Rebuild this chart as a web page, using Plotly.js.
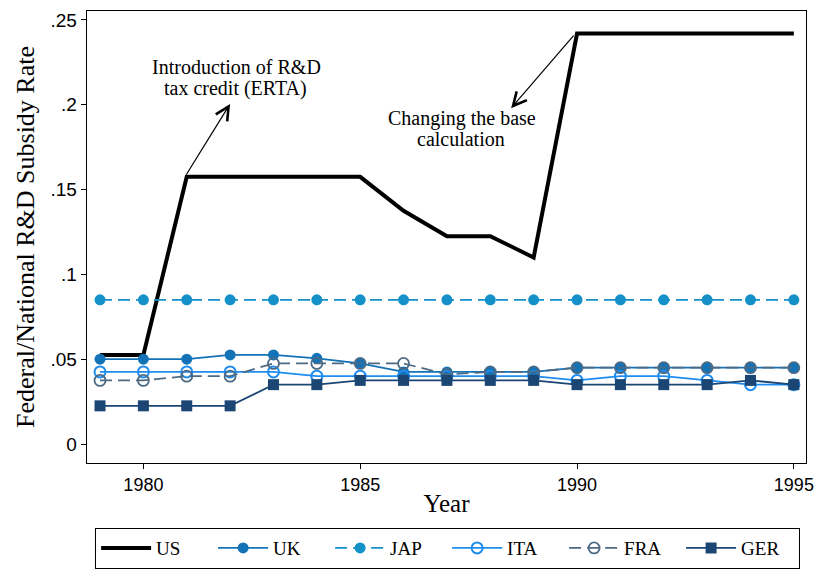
<!DOCTYPE html>
<html>
<head>
<meta charset="utf-8">
<script src="https://cdn.plot.ly/plotly-3.0.1.min.js"></script>
<style>html,body{margin:0;padding:0;background:#fff;}#chart{width:821px;height:572px;}</style>
</head>
<body>
<div id="chart"></div>
<script>
const years = [1979,1980,1981,1982,1983,1984,1985,1986,1987,1988,1989,1990,1991,1992,1993,1994,1995];
const US  = [0.0525,0.0525,0.1575,0.1575,0.1575,0.1575,0.1575,0.1375,0.1225,0.1225,0.1100,0.2420,0.2420,0.2420,0.2420,0.2420,0.2420];
const UK  = [0.0500,0.0500,0.0500,0.0525,0.0525,0.0505,0.0475,0.0425,0.0425,0.0425,0.0425,0.0450,0.0450,0.0450,0.0450,0.0450,0.0450];
const JAP = [0.085,0.085,0.085,0.085,0.085,0.085,0.085,0.085,0.085,0.085,0.085,0.085,0.085,0.085,0.085,0.085,0.085];
const ITA = [0.0425,0.0425,0.0425,0.0425,0.0425,0.0400,0.0400,0.0400,0.0400,0.0400,0.0400,0.0375,0.0400,0.0400,0.0375,0.0350,0.0350];
const FRA = [0.0375,0.0375,0.0400,0.0400,0.0475,0.0475,0.0475,0.0475,0.0410,0.0425,0.0425,0.0450,0.0450,0.0450,0.0450,0.0450,0.0450];
const GER = [0.0225,0.0225,0.0225,0.0225,0.0350,0.0350,0.0375,0.0375,0.0375,0.0375,0.0375,0.0350,0.0350,0.0350,0.0350,0.0375,0.0350];
const yTickVals = [0,0.05,0.1,0.15,0.2,0.25];
const yTickText = ['0','.05','.1','.15','.2','.25'];
const xTickVals = [1980,1985,1990,1995];

const serif = 'Liberation Serif, Times New Roman, serif';
const sans = 'Liberation Sans, Arial, sans-serif';

const traces = [
  {x: years, y: US, name: 'US', mode: 'lines', line: {color: '#000000', width: 4}},
  {x: years, y: UK, name: 'UK', mode: 'lines+markers', line: {color: '#1473b6', width: 1.8},
   marker: {symbol: 'circle', size: 11, color: '#1473b6'}},
  {x: years, y: JAP, name: 'JAP', mode: 'lines+markers', line: {color: '#1590c8', width: 1.8, dash: '12px,6px'},
   marker: {symbol: 'circle', size: 11, color: '#1590c8'}},
  {x: years, y: ITA, name: 'ITA', mode: 'lines+markers', line: {color: '#1e8cf0', width: 1.8},
   marker: {symbol: 'circle-open', size: 11, color: '#1e8cf0', line: {width: 2}}},
  {x: years, y: FRA, name: 'FRA', mode: 'lines+markers', line: {color: '#4d6a84', width: 1.8, dash: '12px,6px'},
   marker: {symbol: 'circle-open', size: 11, color: '#4d6a84', line: {width: 1.8}}},
  {x: years, y: GER, name: 'GER', mode: 'lines+markers', line: {color: '#1b4674', width: 1.8},
   marker: {symbol: 'square', size: 11, color: '#1b4674'}}
];

const txt = (x, y, s) => ({x: x, y: y, xref: 'x', yref: 'y', showarrow: false, text: s,
  font: {family: serif, size: 20, color: '#000'}, align: 'center'});

const layout = {
  width: 821, height: 572,
  margin: {l: 87, r: 15, t: 11, b: 109, autoexpand: false},
  paper_bgcolor: '#ffffff', plot_bgcolor: '#ffffff',
  showlegend: true,
  legend: {
    orientation: 'h', x: 0.011, xanchor: 'left', y: -0.1435, yanchor: 'top',
    bordercolor: '#000000', borderwidth: 1.2,
    font: {family: serif, size: 19, color: '#000'},
    entrywidth: 52, entrywidthmode: 'pixels', itemwidth: 50,
    tracegroupgap: 0
  },
  xaxis: {
    range: [1978.7, 1995.28], tickvals: xTickVals, ticks: 'outside', ticklen: 5, tickcolor: '#000',
    showgrid: false, zeroline: false, showline: true, linecolor: '#000', linewidth: 1.3, mirror: true,
    tickfont: {family: sans, size: 18, color: '#000'},
    title: {text: 'Year', font: {family: serif, size: 25, color: '#000'}, standoff: 0}
  },
  yaxis: {
    range: [-0.0112, 0.2553], tickvals: yTickVals, ticktext: yTickText, ticks: 'outside', ticklen: 5, tickcolor: '#000',
    showgrid: false, zeroline: false, showline: true, linecolor: '#000', linewidth: 1.3, mirror: true,
    tickfont: {family: sans, size: 19, color: '#000'},
    title: {text: 'Federal/National R&D Subsidy Rate', font: {family: serif, size: 26, color: '#000'}, standoff: 8}
  },
  annotations: [
    {x: 1982.0, y: 0.2005, ax: 1980.97, ay: 0.158, xref: 'x', yref: 'y', axref: 'x', ayref: 'y',
     text: '', showarrow: true, arrowhead: 5, arrowsize: 2.2, arrowwidth: 1.2, arrowcolor: '#000'},
    {x: 1988.48, y: 0.198, ax: 1989.95, ay: 0.2417, xref: 'x', yref: 'y', axref: 'x', ayref: 'y',
     text: '', showarrow: true, arrowhead: 5, arrowsize: 2.2, arrowwidth: 1.2, arrowcolor: '#000'},
    txt(1982.14, 0.2223, 'Introduction of R&D'),
    txt(1982.12, 0.2099, 'tax credit (ERTA)'),
    txt(1987.35, 0.1922, 'Changing the base'),
    txt(1987.33, 0.1798, 'calculation')
  ]
};

Plotly.newPlot('chart', traces, layout, {displayModeBar: false, staticPlot: true});
</script>
</body>
</html>
